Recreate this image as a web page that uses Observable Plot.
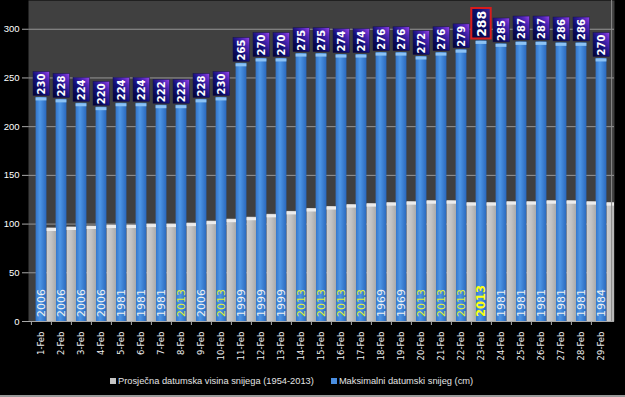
<!DOCTYPE html>
<html>
<head>
<meta charset="utf-8">
<script src="https://cdn.jsdelivr.net/npm/d3@7"></script>
<script src="https://cdn.jsdelivr.net/npm/@observablehq/plot@0.6"></script>
<style>
  html, body { margin: 0; padding: 0; background: #000; }
  #chart { width: 625px; height: 397px; background: #000; overflow: hidden; }
  #chart svg { display: block; }
  #legend { height: 29px; box-sizing: border-box; border-bottom: 2px solid #9a9a9a;
    display: flex; align-items: center; padding-left: 110px; padding-bottom: 1px;
    font: 9.3px "Liberation Sans", Arial, sans-serif; color: #e4e4e4; }
  .item { display: flex; align-items: center; margin-right: 17px; }
  .sw { width: 6px; height: 6px; margin-right: 2px; }
  g[aria-label="peak-label"] text { text-decoration: underline; }
</style>
</head>
<body>
<div id="chart"></div>
<script>
// ---- data ----
const dates = ["1-Feb","2-Feb","3-Feb","4-Feb","5-Feb","6-Feb","7-Feb","8-Feb","9-Feb","10-Feb",
  "11-Feb","12-Feb","13-Feb","14-Feb","15-Feb","16-Feb","17-Feb","18-Feb","19-Feb","20-Feb",
  "21-Feb","22-Feb","23-Feb","24-Feb","25-Feb","26-Feb","27-Feb","28-Feb","29-Feb"];
const maxSnow = [230,228,224,220,224,224,222,222,228,230,265,270,270,275,275,274,274,276,276,272,
  276,279,288,285,287,287,286,286,270];
const maxYear = ["2006","2006","2006","2006","1981","1981","1981","2013","2006","2013",
  "1999","1999","1999","2013","2013","2013","2013","1969","1969","2013",
  "2013","2013","2013","1981","1981","1981","1981","1981","1984"];
const avgSnow = [96,97,98,99,99,100,100,101,103,105,107,110,113,116,118,120,121,122,123,124,
  124,122,122,123,123,124,124,123,122];
const yTicks = [0,50,100,150,200,250,300];
const seriesNames = ["Prosječna datumska visina snijega (1954-2013)", "Maksimalni datumski snijeg (cm)"];

// ---- layout ----
const W = 625, H = 368, ML = 28, MR = 11, MT = 0, MB = 47;
const bw = (W - ML - MR) / dates.length;

const rows = dates.map((d, i) => ({date: d, max: maxSnow[i], avg: avgSnow[i], year: maxYear[i]}));
const peak = d3.max(maxSnow);
const normalRows = rows.filter(d => d.max !== peak);
const peakRows = rows.filter(d => d.max === peak);

const plot = Plot.plot({
  width: W, height: H,
  marginLeft: ML, marginRight: MR, marginTop: MT, marginBottom: MB,
  style: {background: "#000", color: "#fff", overflow: "visible"},
  x: {type: "band", domain: dates, padding: 0},
  y: {domain: [0, 329.5]},
  marks: [
    Plot.frame({fill: "#404040", stroke: null}),
    Plot.ruleY(yTicks, {stroke: "#b4b4b4", strokeOpacity: 0.75}),
    // max snow (blue cylinders)
    Plot.barY(rows, {x: "date", y: "max", fill: "url(#gBlue)", insetLeft: 4.6, insetRight: 4.6}),
    Plot.tickY(rows, {x: "date", y: "max", stroke: "#8cc2f4", strokeWidth: 3, dy: 1.5, insetLeft: 4.6, insetRight: 4.6}),
    // average snow (gray)
    Plot.barY(rows, {x: "date", y: "avg", fill: "url(#gGray)", dx: bw / 2, insetLeft: 5.5, insetRight: 5.1, clip: true}),
    Plot.tickY(rows, {x: "date", y: "avg", stroke: "#ececec", strokeWidth: 3, dy: 1.5, dx: bw / 2, insetLeft: 5.5, insetRight: 5.1, clip: true}),
    // value boxes
    Plot.barY(normalRows, {x: "date", y1: d => d.max + 1.5, y2: d => d.max + 26, fill: "url(#gBox)",
      stroke: "#14104a", strokeWidth: 0.5, insetLeft: 2, insetRight: 1.5}),
    Plot.barY(peakRows, {x: "date", y1: d => d.max + 2, y2: d => d.max + 33.3, fill: "url(#gBox2)",
      stroke: "#d81c1c", strokeWidth: 2, insetLeft: 0.3, insetRight: 0.3}),
    Plot.text(normalRows, {x: "date", y: d => d.max + 13.75, text: d => String(d.max), rotate: -90,
      fill: "#fff", fontWeight: "bold", fontSize: 10, fontFamily: "DejaVu Sans"}),
    Plot.text(peakRows, {x: "date", y: d => d.max + 17.6, text: d => String(d.max), rotate: -90,
      fill: "#fff", fontWeight: "bold", fontSize: 12.5, fontFamily: "DejaVu Sans", ariaLabel: "peak-label"}),
    // record years
    Plot.text(rows.filter(d => d.year !== "2013"), {x: "date", y: 0, text: "year", rotate: -90, textAnchor: "start",
      dy: -4.5, fill: "#f0f0f0", fontSize: 11, fontFamily: "DejaVu Sans"}),
    Plot.text(rows.filter(d => d.year === "2013" && d.max !== peak), {x: "date", y: 0, text: "year", rotate: -90, textAnchor: "start",
      dy: -4.5, fill: "#e0ee3a", fontSize: 11, fontFamily: "DejaVu Sans"}),
    Plot.text(peakRows, {x: "date", y: 0, text: "year", rotate: -90, textAnchor: "start",
      dy: -4.5, fill: "#ffff10", fontWeight: "bold", fontSize: 11.5, fontFamily: "DejaVu Sans"}),
    // axes
    Plot.ruleY([0], {stroke: "#a8a8a8"}),
    Plot.ruleX([dates[dates.length - 1]], {dx: bw / 2, stroke: "#8a8a8a"}),
    Plot.axisY({ticks: yTicks, tickSize: 6, tickPadding: 3, label: null, stroke: "#a8a8a8",
      fill: "#fff", fontSize: 9.5, fontFamily: "Liberation Sans"}),
    Plot.axisX({tickSize: 4, tickFormat: () => "", dx: -bw / 2, label: null, stroke: "#a8a8a8"}),
    Plot.axisX({tickSize: 0, tickPadding: 10, tickRotate: -90, label: null, fill: "#f0f0f0",
      fontSize: 8.5, fontFamily: "DejaVu Sans"})
  ]
});

const svg = plot.tagName.toLowerCase() === "svg" ? plot : plot.querySelector("svg");
const defs = d3.select(svg).insert("defs", ":first-child");
function grad(id, stops, dir) {
  const g = defs.append("linearGradient").attr("id", id)
    .attr("x1", dir[0]).attr("y1", dir[1]).attr("x2", dir[2]).attr("y2", dir[3]);
  stops.forEach(([o, c]) => g.append("stop").attr("offset", o).attr("stop-color", c));
}
grad("gBlue", [[0, "#3274c8"], [0.4, "#4d96e6"], [1, "#2a68bc"]], [0, 0, 1, 0]);
grad("gGray", [[0, "#cfcfcf"], [0.5, "#c2c2c2"], [1, "#aaaaaa"]], [0, 0, 1, 0]);
grad("gBox", [[0, "#02022e"], [0.45, "#12107a"], [0.8, "#5a28c0"], [1, "#9a48e8"]], [0, 1, 1, 0]);
grad("gBox2", [[0, "#03033a"], [0.6, "#0e0e6a"], [1, "#3a2aa0"]], [0, 1, 1, 0]);

const chart = document.getElementById("chart");
chart.appendChild(plot);

const legend = document.createElement("div");
legend.id = "legend";
const swatchColors = ["#c4c4c4", "#4a8ee0"];
seriesNames.forEach((name, i) => {
  const item = document.createElement("div");
  item.className = "item";
  const sw = document.createElement("span");
  sw.className = "sw";
  sw.style.background = swatchColors[i];
  const t = document.createElement("span");
  t.textContent = name;
  item.appendChild(sw); item.appendChild(t);
  legend.appendChild(item);
});
chart.appendChild(legend);
</script>
</body>
</html>
